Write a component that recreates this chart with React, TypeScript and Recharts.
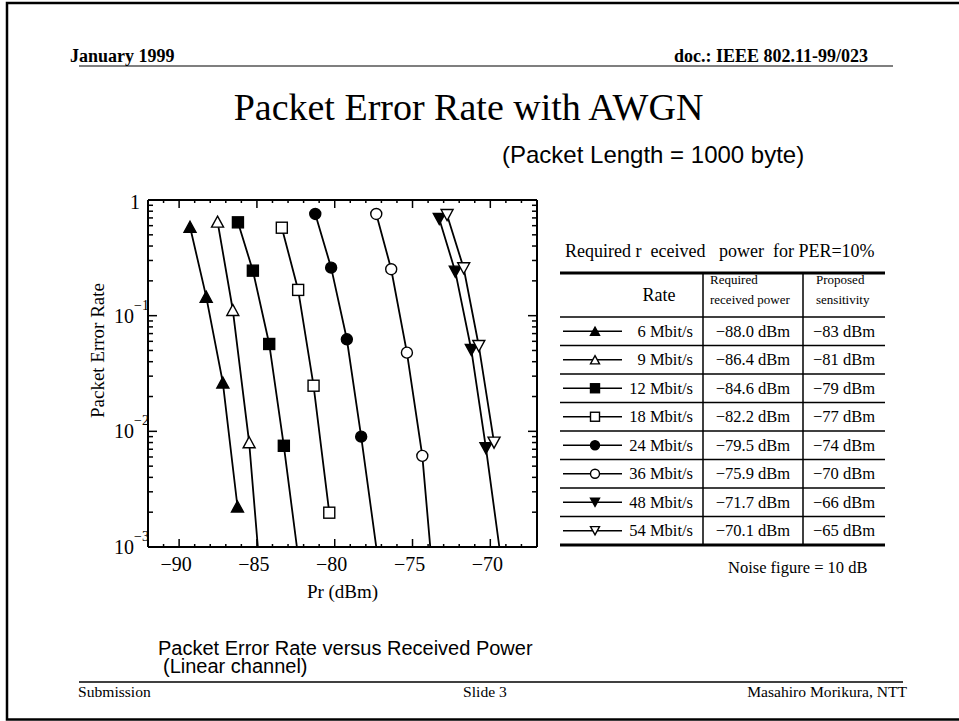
import React from "react";
import { LineChart, Line, XAxis, YAxis, Label } from "recharts";

const SERIF = "'Liberation Serif', 'Times New Roman', serif";
const SANS = "'Liberation Sans', Arial, sans-serif";

// table rows
const RATES = ["6 Mbit/s", "9 Mbit/s", "12 Mbit/s", "18 Mbit/s", "24 Mbit/s", "36 Mbit/s", "48 Mbit/s", "54 Mbit/s"];
const REQUIRED_POWER = [-88.0, -86.4, -84.6, -82.2, -79.5, -75.9, -71.7, -70.1];
const SENSITIVITY = [-83, -81, -79, -77, -74, -70, -66, -65];
const MARKER_SHAPE = ["up", "up", "square", "square", "circle", "circle", "down", "down"];
const MARKER_FILLED = [true, false, true, false, true, false, true, false];

// measured points (Pr in dBm, PER)
const PR_6 = [-89.3, -88.26, -87.19, -86.25];
const PER_6 = [0.587, 0.146, 0.0264, 0.00224];
const PR_9 = [-87.53, -86.55, -85.5];
const PER_9 = [0.65, 0.112, 0.00804];
const PR_12 = [-86.22, -85.26, -84.21, -83.27];
const PER_12 = [0.641, 0.245, 0.0569, 0.0075];
const PR_18 = [-83.4, -82.35, -81.36, -80.35];
const PER_18 = [0.576, 0.167, 0.0248, 0.00198];
const PR_24 = [-81.25, -80.23, -79.22, -78.3];
const PER_24 = [0.757, 0.26, 0.0625, 0.009];
const PR_36 = [-77.33, -76.37, -75.36, -74.37];
const PER_36 = [0.757, 0.252, 0.0479, 0.00613];
const PR_48 = [-73.28, -72.25, -71.22, -70.28];
const PER_48 = [0.685, 0.24, 0.0505, 0.00715];
const PR_54 = [-72.78, -71.71, -70.74, -69.76];
const PER_54 = [0.741, 0.257, 0.0547, 0.00798];

const PR_LIST = [PR_6, PR_9, PR_12, PR_18, PR_24, PR_36, PR_48, PR_54];
const PER_LIST = [PER_6, PER_9, PER_12, PER_18, PER_24, PER_36, PER_48, PER_54];
// where the fitted curve runs out of the bottom of the plot (PER = 1e-3), no marker
const TAIL_PR = [null, -84.94, -82.43, null, -77.33, -73.86, -69.42, null];
const PER_FLOOR = 0.001;

const PR_DOMAIN = [-92, -67];
const PR_LABELS = [-90, -85, -80, -75, -70];
const PER_DECADES = [0.001, 0.01, 0.1, 1];

const PR_TICKS: number[] = [];
for (let v = PR_DOMAIN[0] + 1; v < PR_DOMAIN[1]; v++) PR_TICKS.push(v);
const PER_TICKS: number[] = [];
PER_DECADES.forEach((d, i) => {
  if (i === PER_DECADES.length - 1) PER_TICKS.push(d);
  else for (let m = 1; m <= 9; m++) PER_TICKS.push(m * d);
});

const seriesData = PR_LIST.map((pr, s) => {
  const pts = pr.map((x, i) => ({ x, y: PER_LIST[s][i], m: true }));
  if (TAIL_PR[s] !== null) pts.push({ x: TAIL_PR[s] as number, y: PER_FLOOR, m: false });
  return pts;
});

const minus = (n: number, digits = 0) => (n < 0 ? "\u2212" : "") + Math.abs(n).toFixed(digits);
const isDecade = (v: number) => Math.abs(Math.log10(v) - Math.round(Math.log10(v))) < 1e-6;

function Marker({ cx, cy, shape, filled, size }: any) {
  const fill = filled ? "#000" : "#fff";
  const sw = 1.4;
  const r = size / 2;
  if (shape === "circle") return <circle cx={cx} cy={cy} r={r} fill={fill} stroke="#000" strokeWidth={sw} />;
  if (shape === "square")
    return <rect x={cx - r} y={cy - r} width={size} height={size} fill={fill} stroke="#000" strokeWidth={sw} />;
  const h = size * 0.92;
  const pts =
    shape === "up"
      ? `${cx},${cy - h / 2} ${cx + r},${cy + h / 2} ${cx - r},${cy + h / 2}`
      : `${cx},${cy + h / 2} ${cx + r},${cy - h / 2} ${cx - r},${cy - h / 2}`;
  return <polygon points={pts} fill={fill} stroke="#000" strokeWidth={sw} strokeLinejoin="miter" />;
}

const BottomTick = ({ x, y, payload }: any) => {
  const v = payload.value;
  const major = PR_LABELS.includes(v);
  return (
    <g>
      <line x1={x} x2={x} y1={y} y2={y - (major ? 8 : 3)} stroke="#000" strokeWidth={1.5} />
      {major && (
        <text x={x - 3} y={y + 24} textAnchor="middle" fontSize={20} fontFamily={SERIF} fill="#000">
          {minus(v)}
        </text>
      )}
    </g>
  );
};

const TopTick = ({ x, y, payload }: any) => {
  const major = PR_LABELS.includes(payload.value);
  return <line x1={x} x2={x} y1={y} y2={y + (major ? 8 : 3)} stroke="#000" strokeWidth={1.5} />;
};

const LeftTick = ({ x, y, payload }: any) => {
  const v = payload.value;
  const major = isDecade(v);
  const e = Math.round(Math.log10(v));
  return (
    <g>
      <line x1={x} x2={x + (major ? 9 : 5)} y1={y} y2={y} stroke="#000" strokeWidth={1.5} />
      {major &&
        (e === 0 ? (
          <text x={x - 8} y={y + 9} textAnchor="end" fontSize={20} fontFamily={SERIF} fill="#000">
            1
          </text>
        ) : (
          <text x={x - 34} y={y + 7} fontSize={20} fontFamily={SERIF} fill="#000">
            10
            <tspan dx={0} dy={-13} fontSize={14}>
              {minus(e)}
            </tspan>
          </text>
        ))}
    </g>
  );
};

const RightTick = ({ x, y, payload }: any) => {
  const major = isDecade(payload.value);
  return <line x1={x} x2={x - (major ? 9 : 5)} y1={y} y2={y} stroke="#000" strokeWidth={1.5} />;
};

const AXIS_LINE = { stroke: "#000", strokeWidth: 2 };

// table layout
const T_LEFT = 560;
const T_RIGHT = 885;
const T_COL1 = 703;
const T_COL2 = 803;
const T_TOP = 273;
const T_HEAD = 317;
const T_ROW = 28.5;

function PerTable() {
  const bottom = T_HEAD + T_ROW * RATES.length;
  return (
    <g fontFamily={SERIF} fill="#000">
      <text x={565} y={257} fontSize={18} style={{ whiteSpace: "pre" }}>
        {"Required r  eceived   power  for PER=10%"}
      </text>
      <line x1={T_LEFT} x2={T_RIGHT} y1={T_TOP} y2={T_TOP} stroke="#000" strokeWidth={3} />
      <line x1={T_LEFT} x2={T_RIGHT} y1={bottom} y2={bottom} stroke="#000" strokeWidth={3} />
      <line x1={T_COL1} x2={T_COL1} y1={T_TOP} y2={bottom} stroke="#000" strokeWidth={1.5} />
      <line x1={T_COL2} x2={T_COL2} y1={T_TOP} y2={bottom} stroke="#000" strokeWidth={1.5} />
      <text x={659} y={301} fontSize={18} textAnchor="middle">Rate</text>
      <text x={710} y={284} fontSize={13}>Required</text>
      <text x={710} y={304} fontSize={13}>received power</text>
      <text x={816} y={284} fontSize={13}>Proposed</text>
      <text x={816} y={304} fontSize={13}>sensitivity</text>
      {RATES.map((rate, i) => {
        const top = T_HEAD + T_ROW * i;
        const cy = top + T_ROW / 2;
        return (
          <g key={rate}>
            <line x1={T_LEFT} x2={T_RIGHT} y1={top} y2={top} stroke="#000" strokeWidth={1.5} />
            <line x1={563} x2={622} y1={cy} y2={cy} stroke="#000" strokeWidth={1.5} />
            <Marker cx={595} cy={cy} shape={MARKER_SHAPE[i]} filled={MARKER_FILLED[i]} size={9} />
            <text x={693} y={cy + 5.5} fontSize={16.5} textAnchor="end">{rate}</text>
            <text x={753} y={cy + 5.5} fontSize={16.5} textAnchor="middle">{minus(REQUIRED_POWER[i], 1) + " dBm"}</text>
            <text x={844} y={cy + 5.5} fontSize={16.5} textAnchor="middle">{minus(SENSITIVITY[i]) + " dBm"}</text>
          </g>
        );
      })}
      <text x={728} y={573} fontSize={16.5}>Noise figure = 10 dB</text>
    </g>
  );
}

export default function App() {
  return (
    <div style={{ position: "absolute", left: 0, top: 0, width: 959, height: 721, overflow: "hidden", background: "#fff" }}>
      <svg width={959} height={721} style={{ position: "absolute", left: 0, top: 0 }}>
        <path d="M 980 3 L 7 3 L 7 719.5 L 980 719.5" fill="none" stroke="#000" strokeWidth={2.5} />
        <line x1={79} x2={893} y1={66} y2={66} stroke="#000" strokeWidth={1.2} />
        <line x1={79} x2={903} y1={682} y2={682} stroke="#000" strokeWidth={1.5} />
        <text x={70} y={61.5} fontSize={18} fontWeight="bold" fontFamily={SERIF}>January 1999</text>
        <text x={868} y={61.5} fontSize={18} fontWeight="bold" fontFamily={SERIF} textAnchor="end">doc.: IEEE 802.11-99/023</text>
        <text x={468.5} y={120} fontSize={38} fontFamily={SERIF} textAnchor="middle">Packet Error Rate with AWGN</text>
        <text x={502} y={163} fontSize={24} fontFamily={SANS}>(Packet Length = 1000 byte)</text>
        <text x={158} y={655} fontSize={20} fontFamily={SANS}>Packet Error Rate versus Received Power</text>
        <text x={163} y={672.5} fontSize={20} fontFamily={SANS}>(Linear channel)</text>
        <text x={78} y={697} fontSize={15.6} fontFamily={SERIF}>Submission</text>
        <text x={485} y={697} fontSize={15.6} fontFamily={SERIF} textAnchor="middle">Slide 3</text>
        <text x={907} y={697} fontSize={15.6} fontFamily={SERIF} textAnchor="end">Masahiro Morikura, NTT</text>
        <PerTable />
      </svg>
      <div style={{ position: "absolute", left: 0, top: 0 }}>
        <LineChart width={600} height={640} margin={{ top: 199, right: 62, bottom: 33, left: 88 }}>
          <XAxis
            xAxisId="b"
            type="number"
            dataKey="x"
            domain={PR_DOMAIN}
            allowDataOverflow
            ticks={PR_TICKS}
            interval={0}
            height={60}
            tickSize={0}
            tickMargin={0}
            tickLine={false}
            axisLine={AXIS_LINE}
            tick={BottomTick}
          >
            <Label
              value="Pr (dBm)"
              position="bottom"
              offset={-22.5}
              style={{ fontFamily: SERIF, fontSize: 19, fill: "#000" }}
            />
          </XAxis>
          <XAxis
            xAxisId="t"
            orientation="top"
            type="number"
            dataKey="x"
            domain={PR_DOMAIN}
            allowDataOverflow
            ticks={PR_TICKS}
            interval={0}
            height={1}
            tickSize={0}
            tickMargin={0}
            tickLine={false}
            axisLine={AXIS_LINE}
            tick={TopTick}
          />
          <YAxis
            yAxisId="l"
            type="number"
            scale="log"
            domain={[PER_DECADES[0], PER_DECADES[PER_DECADES.length - 1]]}
            allowDataOverflow
            ticks={PER_TICKS}
            interval={0}
            width={60}
            tickSize={0}
            tickMargin={0}
            tickLine={false}
            axisLine={AXIS_LINE}
            tick={LeftTick}
          >
            <Label
              content={({ viewBox }: any) => {
                const cx = viewBox.x + 9;
                const cy = viewBox.y + viewBox.height / 2 - 23;
                return (
                  <text
                    x={cx}
                    y={cy}
                    transform={`rotate(-90 ${cx} ${cy})`}
                    textAnchor="middle"
                    dominantBaseline="central"
                    fontFamily={SERIF}
                    fontSize={19}
                    fill="#000"
                  >
                    Packet Error Rate
                  </text>
                );
              }}
            />
          </YAxis>
          <YAxis
            yAxisId="r"
            orientation="right"
            type="number"
            scale="log"
            domain={[PER_DECADES[0], PER_DECADES[PER_DECADES.length - 1]]}
            allowDataOverflow
            ticks={PER_TICKS}
            interval={0}
            width={1}
            tickSize={0}
            tickMargin={0}
            tickLine={false}
            axisLine={AXIS_LINE}
            tick={RightTick}
          />
          {seriesData.map((pts, s) => (
            <Line
              key={RATES[s]}
              xAxisId="b"
              yAxisId="l"
              data={pts}
              dataKey="y"
              type="linear"
              stroke="#000"
              strokeWidth={1.8}
              isAnimationActive={false}
              activeDot={false}
              dot={(p: any) =>
                p.payload.m ? (
                  <Marker
                    key={`m-${s}-${p.index}`}
                    cx={p.cx}
                    cy={p.cy}
                    shape={MARKER_SHAPE[s]}
                    filled={MARKER_FILLED[s]}
                    size={MARKER_SHAPE[s] === "circle" ? 11 : MARKER_SHAPE[s] === "square" ? 11 : 12}
                  />
                ) : (
                  <g key={`m-${s}-${p.index}`} />
                )
              }
            />
          ))}
        </LineChart>
      </div>
    </div>
  );
}
